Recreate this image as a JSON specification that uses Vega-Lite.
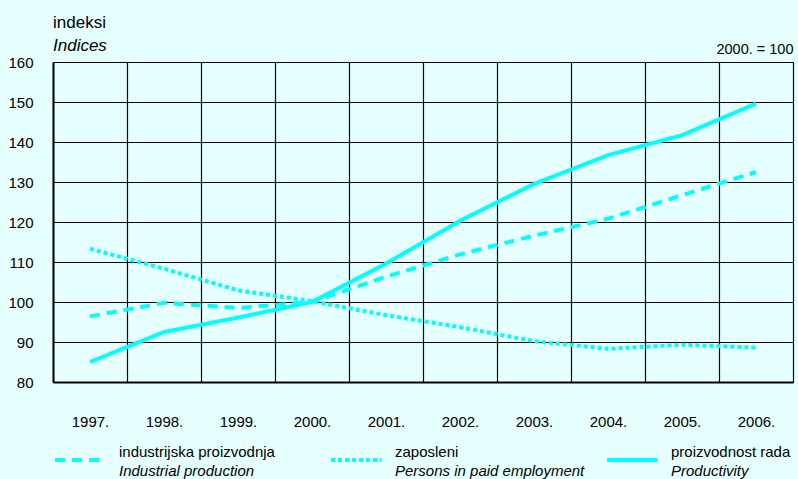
{
  "$schema": "https://vega.github.io/schema/vega-lite/v6.json",
  "width": 740,
  "height": 320,
  "autosize": {"type": "none"},
  "padding": {"left": 53, "top": 62, "right": 5, "bottom": 97},
  "background": "#e6ffff",
  "config": {
    "font": "Liberation Sans, Arial, sans-serif",
    "view": {"stroke": "#333333", "strokeWidth": 1, "fill": "#e6ffff"}
  },
  "title": {
    "text": "indeksi",
    "subtitle": "Indices",
    "anchor": "start",
    "frame": "group",
    "fontSize": 17,
    "fontWeight": "normal",
    "color": "#000000",
    "subtitleFontSize": 17,
    "subtitleFontStyle": "italic",
    "subtitleColor": "#000000",
    "subtitlePadding": 6,
    "offset": -14
  },
  "data": {
    "values": [
      {"year": "1997.", "hr": "industrijska proizvodnja", "en": "Industrial production", "v": 96.4},
      {"year": "1998.", "hr": "industrijska proizvodnja", "en": "Industrial production", "v": 99.8},
      {"year": "1999.", "hr": "industrijska proizvodnja", "en": "Industrial production", "v": 98.5},
      {"year": "2000.", "hr": "industrijska proizvodnja", "en": "Industrial production", "v": 100},
      {"year": "2001.", "hr": "industrijska proizvodnja", "en": "Industrial production", "v": 106.3},
      {"year": "2002.", "hr": "industrijska proizvodnja", "en": "Industrial production", "v": 111.9},
      {"year": "2003.", "hr": "industrijska proizvodnja", "en": "Industrial production", "v": 116.6},
      {"year": "2004.", "hr": "industrijska proizvodnja", "en": "Industrial production", "v": 120.8},
      {"year": "2005.", "hr": "industrijska proizvodnja", "en": "Industrial production", "v": 126.7},
      {"year": "2006.", "hr": "industrijska proizvodnja", "en": "Industrial production", "v": 132.5},
      {"year": "1997.", "hr": "zaposleni", "en": "Persons in paid employment", "v": 113.3},
      {"year": "1998.", "hr": "zaposleni", "en": "Persons in paid employment", "v": 108.3},
      {"year": "1999.", "hr": "zaposleni", "en": "Persons in paid employment", "v": 102.9},
      {"year": "2000.", "hr": "zaposleni", "en": "Persons in paid employment", "v": 100.2},
      {"year": "2001.", "hr": "zaposleni", "en": "Persons in paid employment", "v": 96.7},
      {"year": "2002.", "hr": "zaposleni", "en": "Persons in paid employment", "v": 93.7},
      {"year": "2003.", "hr": "zaposleni", "en": "Persons in paid employment", "v": 90.2},
      {"year": "2004.", "hr": "zaposleni", "en": "Persons in paid employment", "v": 88.3},
      {"year": "2005.", "hr": "zaposleni", "en": "Persons in paid employment", "v": 89.3},
      {"year": "2006.", "hr": "zaposleni", "en": "Persons in paid employment", "v": 88.6},
      {"year": "1997.", "hr": "proizvodnost rada", "en": "Productivity", "v": 85.0},
      {"year": "1998.", "hr": "proizvodnost rada", "en": "Productivity", "v": 92.5},
      {"year": "1999.", "hr": "proizvodnost rada", "en": "Productivity", "v": 96.1},
      {"year": "2000.", "hr": "proizvodnost rada", "en": "Productivity", "v": 100},
      {"year": "2001.", "hr": "proizvodnost rada", "en": "Productivity", "v": 109.6},
      {"year": "2002.", "hr": "proizvodnost rada", "en": "Productivity", "v": 120.3},
      {"year": "2003.", "hr": "proizvodnost rada", "en": "Productivity", "v": 129.5},
      {"year": "2004.", "hr": "proizvodnost rada", "en": "Productivity", "v": 136.7},
      {"year": "2005.", "hr": "proizvodnost rada", "en": "Productivity", "v": 141.7},
      {"year": "2006.", "hr": "proizvodnost rada", "en": "Productivity", "v": 149.6}
    ]
  },
  "layer": [
    {
      "mark": {"type": "line", "strokeWidth": 4, "strokeCap": "butt"},
      "encoding": {
        "x": {
          "field": "year",
          "type": "ordinal",
          "bandPosition": 0.5,
          "scale": {"type": "band", "paddingInner": 0, "paddingOuter": 0},
          "axis": {
            "title": null,
            "orient": "bottom",
            "labelAngle": 0,
            "labelFontSize": 15,
            "labelColor": "#000000",
            "labelPadding": 32,
            "ticks": false,
            "tickBand": "extent",
            "grid": true,
            "gridColor": "#000000",
            "gridWidth": 1.2,
            "gridOpacity": 1,
            "domainColor": "#000000",
            "domainWidth": 2
          }
        },
        "y": {
          "field": "v",
          "type": "quantitative",
          "scale": {"domain": [80, 160], "nice": false, "zero": false},
          "axis": {
            "title": null,
            "values": [80, 90, 100, 110, 120, 130, 140, 150, 160],
            "labelFontSize": 15,
            "labelColor": "#000000",
            "labelPadding": 20,
            "ticks": false,
            "grid": true,
            "gridColor": "#000000",
            "gridWidth": 1.2,
            "gridOpacity": 1,
            "domainColor": "#000000",
            "domainWidth": 2
          }
        },
        "strokeDash": {
          "field": "hr",
          "type": "nominal",
          "scale": {
            "domain": ["industrijska proizvodnja", "zaposleni", "proizvodnost rada"],
            "range": [[10, 7], [4, 3], [1, 0]]
          },
          "legend": {
            "title": null,
            "orient": "none",
            "direction": "horizontal",
            "columns": 3,
            "gridAlign": "all",
            "legendX": 0,
            "legendY": 371,
            "symbolType": "stroke",
            "symbolSize": 2500,
            "symbolStrokeWidth": 4,
            "symbolStrokeColor": "#00ffff",
            "labelFontSize": 15,
            "labelColor": "#000000",
            "labelOffset": 12,
            "labelLimit": 300,
            "labelBaseline": "bottom",
            "columnPadding": 48
          }
        },
        "color": {
          "field": "en",
          "type": "nominal",
          "scale": {
            "domain": ["Industrial production", "Persons in paid employment", "Productivity"],
            "range": ["#00ffff", "#00ffff", "#00ffff"]
          },
          "legend": {
            "title": null,
            "orient": "none",
            "direction": "horizontal",
            "columns": 3,
            "gridAlign": "all",
            "legendX": 0,
            "legendY": 390,
            "symbolType": "stroke",
            "symbolSize": 2500,
            "symbolOpacity": 0,
            "symbolStrokeWidth": 4,
            "labelFontSize": 15,
            "labelFontStyle": "italic",
            "labelColor": "#000000",
            "labelOffset": 12,
            "labelLimit": 300,
            "labelBaseline": "bottom",
            "columnPadding": 20
          }
        }
      }
    },
    {
      "mark": {"type": "line", "opacity": 0},
      "encoding": {
        "x": {
          "field": "year",
          "type": "ordinal",
          "bandPosition": 0.5,
          "scale": {"type": "band", "paddingInner": 0, "paddingOuter": 0},
          "axis": {
            "orient": "top",
            "title": "2000. = 100",
            "titleAnchor": "end",
            "titleAlign": "right",
            "titleFontSize": 14.5,
            "titleFontWeight": "normal",
            "titleColor": "#000000",
            "titlePadding": 6,
            "labels": false,
            "ticks": false,
            "domain": false,
            "grid": false
          }
        },
        "y": {
          "field": "v",
          "type": "quantitative",
          "scale": {"domain": [80, 160], "nice": false, "zero": false},
          "axis": {
            "title": null,
            "values": [80, 90, 100, 110, 120, 130, 140, 150, 160],
            "labelFontSize": 15,
            "labelColor": "#000000",
            "labelPadding": 20,
            "ticks": false,
            "grid": true,
            "gridColor": "#000000",
            "gridWidth": 1.2,
            "gridOpacity": 1,
            "domainColor": "#000000",
            "domainWidth": 2
          }
        },
        "detail": {"field": "hr"}
      }
    }
  ],
  "resolve": {"axis": {"x": "independent"}}
}
